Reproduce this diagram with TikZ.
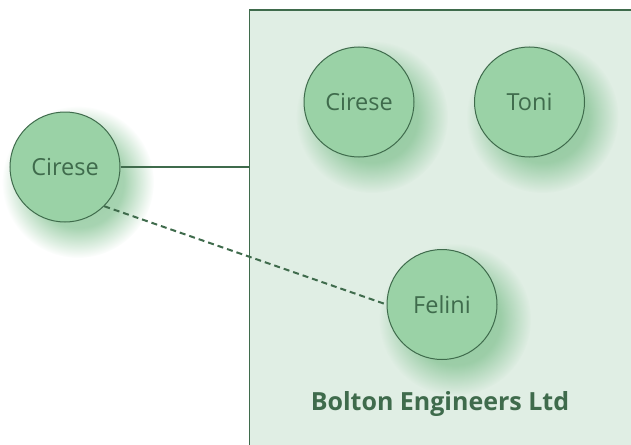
\documentclass[tikz,border=0pt]{standalone}
\usepackage{fontspec}
\setmainfont{Open Sans}
\usetikzlibrary{fadings}
\definecolor{edge}{HTML}{3F6B4C}
\definecolor{bubble}{HTML}{9AD2A6}
\definecolor{zone}{HTML}{E0EEE4}
\definecolor{glowcol}{HTML}{7DBF8C}
\pgfdeclareradialshading{glowshade}{\pgfpointorigin}{color(0bp)=(transparent!0); color(15bp)=(transparent!15); color(25bp)=(transparent!100); color(50bp)=(transparent!100)}
\pgfdeclarefading{glow}{\pgfuseshading{glowshade}}
\begin{document}
\begin{tikzpicture}[x=1pt,y=-1pt,
  person/.style={circle,draw=edge,line width=1pt,fill=bubble,minimum size=110pt,inner sep=0pt,
    text=edge,font=\fontsize{23.5}{26}\selectfont},
  link/.style={draw=edge,line width=2.2pt},
  glowfill/.style={fill=glowcol,path fading=glow,fill opacity=0.8}]
\useasboundingbox (0,0) rectangle (631,444);
\node[draw=edge,line width=1.3pt,fill=zone,minimum width=400pt,minimum height=450pt,anchor=north west,inner sep=0pt] (org) at (248.5,9.5) {};
\foreach \x/\y in {65/167,359/102,529.5/102,442/304.5}
  \fill[glowfill] (\x+13,\y+15) circle (76pt);
\node[person] (out) at (65,167) {Cirese};
\node[person] (c2) at (359,102) {Cirese};
\node[person] (toni) at (529.5,102) {Toni};
\node[person] (fel) at (442,304.5) {Felini};
\node[text=edge,font=\bfseries\fontsize{25}{28}\selectfont] (lbl) at (440,404) {Bolton Engineers Ltd};
\coordinate (orgleft) at (org.west |- out.east);
\draw[link] (out.east) -- (orgleft);
\draw[link,line width=2pt,dash pattern=on 6pt off 4pt] (out.south east) -- (fel.west);
\end{tikzpicture}
\end{document}
